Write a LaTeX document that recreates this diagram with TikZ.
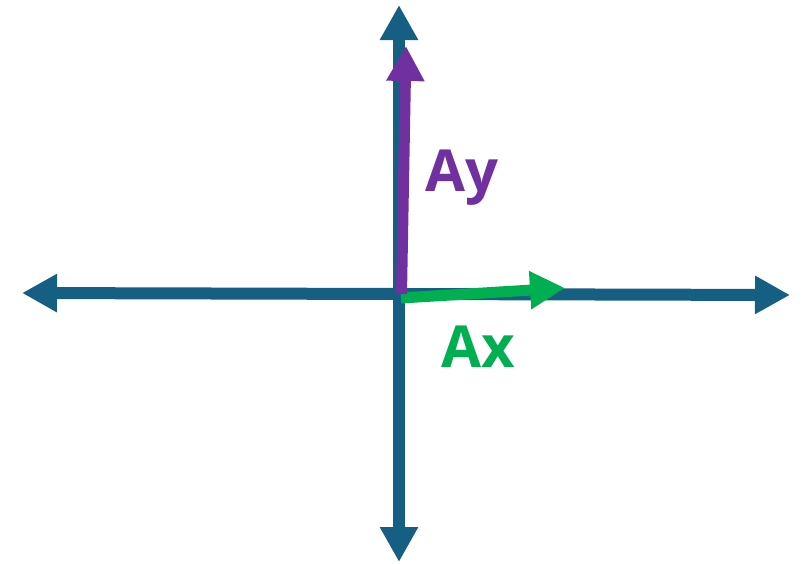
\documentclass[tikz,border=0pt]{standalone}
\usepackage{fontspec}
\setmainfont{Open Sans}
\usetikzlibrary{arrows.meta}
\definecolor{axisblue}{HTML}{156082}
\definecolor{grape}{HTML}{7030A0}
\definecolor{leaf}{HTML}{00B050}

\begin{document}
\begin{tikzpicture}[x=1pt,y=-1pt,
    tip/.tip={Triangle[length=35pt,width=36pt]},
    axisline/.style={axisblue,line width=12pt,tip-tip},
    vec/.style={line width=11pt,-tip},
    lbl/.style={anchor=base west,inner sep=0pt,font=\fontsize{58}{60}\selectfont\bfseries}]
    \useasboundingbox (0,0) rectangle (805,563);
    % axes
    \coordinate (west)  at (22,293);
    \coordinate (east)  at (790,295);
    \coordinate (north) at (399,5);
    \coordinate (south) at (399,562);
    \draw[axisline] (west) -- (east);
    \draw[axisline] (south) -- (north);
    % components
    \coordinate (ystart) at (401.5,294);
    \coordinate (ytip)   at (406,46);
    \coordinate (xstart) at (401,298);
    \coordinate (xtip)   at (565,288);
    \draw[vec,leaf]  (xstart) -- (xtip);
    \draw[vec,grape] (ystart) -- (ytip);
    \node[lbl,text=grape] (ay) at (425,191) {Ay};
    \node[lbl,text=leaf]  (ax) at (441,367) {Ax};
\end{tikzpicture}
\end{document}
